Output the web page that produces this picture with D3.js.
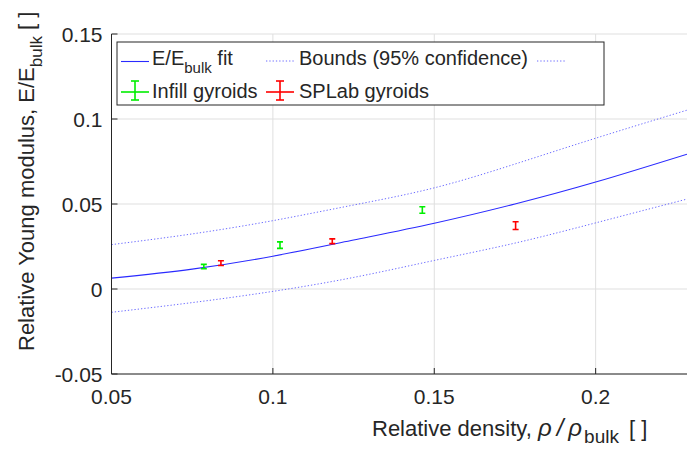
<!DOCTYPE html>
<html><head><meta charset="utf-8">
<script src="https://cdn.jsdelivr.net/npm/d3@7"></script>
<style>
html,body{margin:0;padding:0;background:#fff;}
text{font-family:"Liberation Sans",Arial,sans-serif;fill:#262626;}
</style></head>
<body>
<svg id="chart" width="687" height="450"></svg>
<script>
// ---- data ----
const rhoFit   = [0.05, 0.075, 0.1, 0.125, 0.15, 0.175, 0.2, 0.2283];
const eFit     = [0.0064, 0.0117, 0.0193, 0.0288, 0.0387, 0.0500, 0.0629, 0.0793];
const eUpper   = [0.0261, 0.0324, 0.0402, 0.0494, 0.0595, 0.0735, 0.0887, 0.1052];
const eLower   = [-0.0137, -0.0080, -0.0014, 0.0068, 0.0168, 0.0270, 0.0389, 0.0529];

const infillRho = [0.0786, 0.1022, 0.1463];
const infillE   = [0.0132, 0.0258, 0.0465];
const infillErr = [0.0013, 0.0019, 0.0019];

const splabRho = [0.0839, 0.1184, 0.1752];
const splabE   = [0.0152, 0.0281, 0.0373];
const splabErr = [0.0014, 0.0014, 0.0023];

const xTicks = [0.05, 0.1, 0.15, 0.2];
const yTicks = [-0.05, 0, 0.05, 0.1, 0.15];
const xTickLabels = ["0.05", "0.1", "0.15", "0.2"];
const yTickLabels = ["-0.05", "0", "0.05", "0.1", "0.15"];

// ---- layout ----
const svg = d3.select("#chart");
const L = 111.5, R = 687, T = 34, B = 374;
const x = d3.scaleLinear().domain([0.05, 0.2283]).range([L, R]);
const y = d3.scaleLinear().domain([-0.05, 0.15]).range([B, T]);
const axisCol = "#262626";

// grid
const grid = svg.append("g");
grid.selectAll("line.gx").data(xTicks).enter().append("line")
  .attr("x1", d => x(d)).attr("x2", d => x(d)).attr("y1", T).attr("y2", B)
  .attr("stroke", "#dfdfdf").attr("stroke-width", 1);
grid.selectAll("line.gy").data(yTicks).enter().append("line")
  .attr("x1", L).attr("x2", R).attr("y1", d => y(d)).attr("y2", d => y(d))
  .attr("stroke", "#dfdfdf").attr("stroke-width", 1);

// clip
svg.append("clipPath").attr("id", "clip").append("rect")
  .attr("x", L).attr("y", T).attr("width", R - L + 50).attr("height", B - T);

const plot = svg.append("g").attr("clip-path", "url(#clip)");

const fitPts = rhoFit.map((r, i) => [r, eFit[i]]);
const upPts = rhoFit.map((r, i) => [r, eUpper[i]]);
const loPts = rhoFit.map((r, i) => [r, eLower[i]]);
const line = d3.line().x(d => x(d[0])).y(d => y(d[1])).curve(d3.curveNatural);

plot.append("path").attr("d", line(upPts)).attr("fill", "none")
  .attr("stroke", "#3a3aff").attr("stroke-opacity", 0.75).attr("stroke-width", 1)
  .attr("stroke-dasharray", "1.3,2");
plot.append("path").attr("d", line(loPts)).attr("fill", "none")
  .attr("stroke", "#3a3aff").attr("stroke-opacity", 0.75).attr("stroke-width", 1)
  .attr("stroke-dasharray", "1.3,2");
plot.append("path").attr("d", line(fitPts)).attr("fill", "none")
  .attr("stroke", "#2a2aff").attr("stroke-width", 1.1);

function errorbars(rhos, es, errs, color) {
  const g = plot.append("g").attr("stroke", color).attr("stroke-width", 1.6);
  rhos.forEach((r, i) => {
    const cx = x(r), y1 = y(es[i] - errs[i]), y2 = y(es[i] + errs[i]);
    g.append("line").attr("x1", cx).attr("x2", cx).attr("y1", y1).attr("y2", y2);
    g.append("line").attr("x1", cx - 3).attr("x2", cx + 3).attr("y1", y1).attr("y2", y1);
    g.append("line").attr("x1", cx - 3).attr("x2", cx + 3).attr("y1", y2).attr("y2", y2);
  });
}
errorbars(infillRho, infillE, infillErr, "#00ee00");
errorbars(splabRho, splabE, splabErr, "#ff0000");

// axes
const axes = svg.append("g");
axes.append("line").attr("x1", L).attr("x2", L).attr("y1", T).attr("y2", B)
  .attr("stroke", axisCol).attr("stroke-width", 1);
axes.append("line").attr("x1", L).attr("x2", R).attr("y1", B).attr("y2", B)
  .attr("stroke", axisCol).attr("stroke-width", 1);
axes.selectAll("line.tx").data(xTicks).enter().append("line")
  .attr("x1", d => x(d)).attr("x2", d => x(d)).attr("y1", B).attr("y2", B - 6)
  .attr("stroke", axisCol);
axes.selectAll("line.ty").data(yTicks).enter().append("line")
  .attr("x1", L).attr("x2", L + 6).attr("y1", d => y(d)).attr("y2", d => y(d))
  .attr("stroke", axisCol);
axes.selectAll("text.tx").data(xTicks).enter().append("text")
  .attr("x", d => x(d)).attr("y", B + 30).attr("text-anchor", "middle")
  .attr("font-size", 21).text((d, i) => xTickLabels[i]);
axes.selectAll("text.ty").data(yTicks).enter().append("text")
  .attr("x", L - 9).attr("y", d => y(d) + 7.5).attr("text-anchor", "end")
  .attr("font-size", 21).text((d, i) => yTickLabels[i]);

// axis labels
const xl = svg.append("text").attr("x", 372).attr("y", 436).attr("font-size", 22);
xl.append("tspan").text("Relative density, ");
xl.append("tspan").attr("font-style", "italic").attr("font-size", 24)
  .attr("letter-spacing", 5).text("ρ/ρ");
xl.append("tspan").attr("font-size", 19).attr("dy", 7).attr("dx", -3).text("bulk");
xl.append("tspan").attr("dy", -7).attr("dx", 4).text(" [ ]");

const yl = svg.append("text").attr("transform", "translate(34,351) rotate(-90)")
  .attr("font-size", 22);
yl.append("tspan").text("Relative Young modulus, E/E");
yl.append("tspan").attr("font-size", 17).attr("dy", 8).text("bulk");
yl.append("tspan").attr("dy", -8).text(" [ ]");

// legend
const lg = svg.append("g");
lg.append("rect").attr("x", 117).attr("y", 42).attr("width", 487).attr("height", 63)
  .attr("fill", "#fff").attr("stroke", axisCol).attr("stroke-width", 1);
lg.append("line").attr("x1", 121).attr("x2", 149).attr("y1", 61.5).attr("y2", 61.5)
  .attr("stroke", "#2a2aff").attr("stroke-width", 1.1);
const t1 = lg.append("text").attr("x", 152).attr("y", 65).attr("font-size", 20);
t1.append("tspan").text("E/E");
t1.append("tspan").attr("font-size", 15).attr("dy", 8).text("bulk");
t1.append("tspan").attr("dy", -8).text(" fit");
lg.append("line").attr("x1", 266).attr("x2", 294).attr("y1", 61).attr("y2", 61)
  .attr("stroke", "#3a3aff").attr("stroke-opacity", 0.75).attr("stroke-dasharray", "1.3,2");
lg.append("text").attr("x", 299).attr("y", 65).attr("font-size", 20).text("Bounds (95% confidence)");
lg.append("line").attr("x1", 537).attr("x2", 565).attr("y1", 61).attr("y2", 61)
  .attr("stroke", "#3a3aff").attr("stroke-opacity", 0.75).attr("stroke-dasharray", "1.3,2");

function legErr(x0, color) {
  const g = lg.append("g").attr("stroke", color).attr("stroke-width", 1.6);
  g.append("line").attr("x1", x0).attr("x2", x0 + 28).attr("y1", 92).attr("y2", 92);
  g.append("line").attr("x1", x0 + 14).attr("x2", x0 + 14).attr("y1", 81).attr("y2", 100);
  g.append("line").attr("x1", x0 + 10).attr("x2", x0 + 18).attr("y1", 81).attr("y2", 81);
  g.append("line").attr("x1", x0 + 10).attr("x2", x0 + 18).attr("y1", 100).attr("y2", 100);
}
legErr(121, "#00ee00");
legErr(266, "#ff0000");
lg.append("text").attr("x", 152).attr("y", 98).attr("font-size", 20).text("Infill gyroids");
lg.append("text").attr("x", 299).attr("y", 98).attr("font-size", 20).text("SPLab gyroids");
</script>
</body></html>
